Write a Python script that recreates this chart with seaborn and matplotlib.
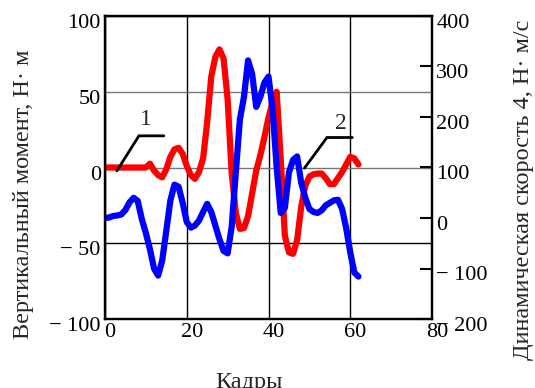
import numpy as np
import pandas as pd
import seaborn as sns
import matplotlib
matplotlib.use("Agg")
import matplotlib.pyplot as plt
from matplotlib.transforms import ScaledTranslation

# Frame numbers
frames = list(range(63))

# Series 1: vertical moment, N*m (left axis)
moment = [0, 0, 0, 0, 0, 0, 0, 0, 0, 0,
          0, 2.5, -2, -5, -6.5, -1, 7, 12, 13, 9,
          1, -5, -7.5, -3, 6, 30, 60, 73, 78, 72,
          45, -4, -30, -40.5, -40, -32, -17, -2, 8, 20,
          33, 43, 50, 5, -45, -56, -57, -48, -26, -12,
          -6, -4.5, -4, -4, -7, -11, -11, -7, -3, 2,
          7, 6, 2]

# Series 2: dynamic speed, N*m/s (right axis)
speed = [0, 1, 4, 5, 7, 16, 31, 40, 34, -2,
         -30, -62, -100, -114, -84, -25, 35, 66, 62, 30,
         -8, -19, -15, -5, 12, 28, 12, -15, -42, -65,
         -70, -17, 90, 195, 240, 312, 285, 220, 240, 268,
         280, 215, 100, 10, 20, 90, 115, 122, 70, 40,
         18, 12, 10, 15, 25, 30, 35, 36, 18, -20,
         -68, -108, -116]

x_ticks = [0, 20, 40, 60, 80]
left_ticks = [-100, -50, 0, 50, 100]
left_labels = ["\u2212 100", "\u2212 50", "0", "50", "100"]
right_ticks = [-200, -100, 0, 100, 200, 300, 400]
right_labels = ["\u2212 200", "\u2212 100", "0", "100", "200", "300", "400"]

sns.set_style("white")
plt.rcParams["font.family"] = ["Liberation Serif", "DejaVu Serif"]

W, H = 535, 388
fig = plt.figure(figsize=(W / 100, H / 100), dpi=100)
ax = fig.add_axes([105 / W, 1 - 319 / H, (432 - 105) / W, (319 - 16) / H])
ax2 = ax.twinx()

df1 = pd.DataFrame({"frame": frames, "moment": moment})
df2 = pd.DataFrame({"frame": frames, "speed": speed})

sns.lineplot(data=df1, x="frame", y="moment", ax=ax, color="#ff0000",
             linewidth=4.5, solid_capstyle="round", solid_joinstyle="round")
sns.lineplot(data=df2, x="frame", y="speed", ax=ax2, color="#0000ff",
             linewidth=4.5, solid_capstyle="round", solid_joinstyle="round")

ax.set_xlim(0, 80)
ax.set_ylim(-100, 100)
ax2.set_ylim(-200, 400)
ax.set_xticks(x_ticks)
ax.set_yticks(left_ticks)
ax.set_yticklabels(left_labels)
ax2.set_yticks(right_ticks)
ax2.set_yticklabels(right_labels)
ax.set_xlabel("")
ax.set_ylabel("")
ax2.set_ylabel("")

fs = 16
lfs = 17.5
ax.tick_params(axis="both", length=0, labelsize=fs, pad=3, colors="black")
ax2.tick_params(axis="y", direction="in", length=9, width=1.5, labelsize=fs,
                pad=3, colors="black")

# grid: vertical lines black, horizontal lines gray except -50
ax.grid(True, color="black", linewidth=1.0)
for loc, gl in zip(left_ticks, ax.yaxis.get_gridlines()):
    if loc in (0, 50):
        gl.set_color("#777777")
ax2.grid(False)

for a in (ax, ax2):
    for s in a.spines.values():
        s.set_color("black")
        s.set_linewidth(1.6)
        s.set_visible(True)

# shift tick labels
dx = ScaledTranslation(5 / 100, 0, fig.dpi_scale_trans)
dy = ScaledTranslation(0, -5 / 100, fig.dpi_scale_trans)
for t in ax.xaxis.get_major_ticks():
    t.label1.set_transform(t.label1.get_transform() + dx)
for t in ax.yaxis.get_major_ticks():
    t.label1.set_transform(t.label1.get_transform() + dy)
for t in ax2.yaxis.get_major_ticks():
    t.label2.set_transform(t.label2.get_transform() + dy)

# curve labels with leader lines
ax2.plot([2.9, 8.3, 14.4], [-2.2, 20.9, 20.9], color="black", linewidth=2,
         transform=ax.transData, solid_joinstyle="miter")
ax2.text(10.1, 31.5, "1", transform=ax.transData, fontsize=17,
         ha="center", va="center")
ax2.plot([48.8, 54.3, 60.5], [-0.4, 19.8, 19.8], color="black", linewidth=2,
         transform=ax.transData, solid_joinstyle="miter")
ax2.text(57.8, 29.3, "2", transform=ax.transData, fontsize=17,
         ha="center", va="center")

# axis titles
fig.text(24 / W, 1 - 194 / H, "Вертикальный момент, Н\u00b7 м", rotation=90,
         ha="center", va="center", fontsize=lfs)
fig.text(523 / W, 1 - 190 / H, "Динамическая скорость 4, Н\u00b7 м/с",
         rotation=90, ha="center", va="center", fontsize=lfs)
fig.text(249 / W, 1 - 388 / H, "Кадры", ha="center", va="baseline",
         fontsize=lfs)

fig.savefig("out.png", dpi=100)
